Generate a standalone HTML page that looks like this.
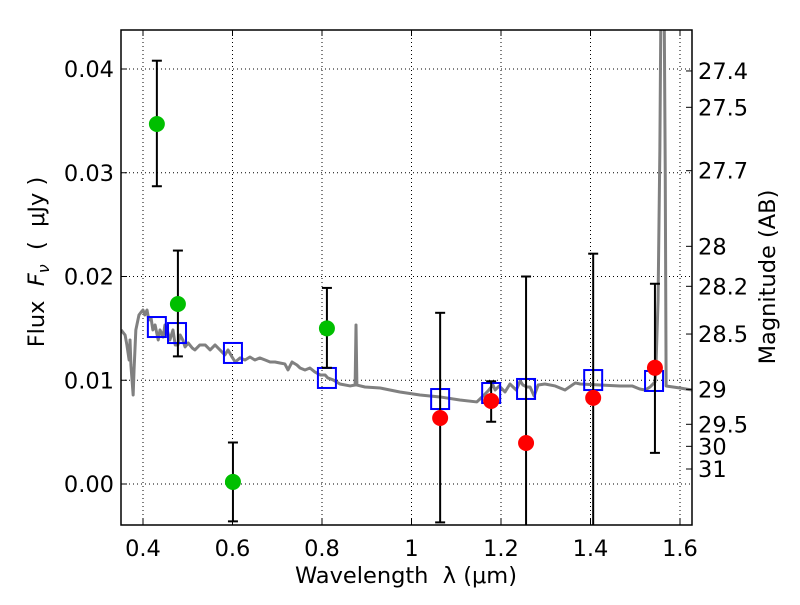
<!DOCTYPE html>
<html><head><meta charset="utf-8"><style>
body{margin:0;background:#fff}
svg text{font-family:"DejaVu Sans","Liberation Sans",sans-serif;fill:#000}
</style></head><body>
<svg id="chart" width="800" height="600" viewBox="0 0 800 600" xmlns="http://www.w3.org/2000/svg"></svg>
<script>
const xTicks=[0.4,0.6,0.8,1.0,1.2,1.4,1.6];
const xTickLabels=["0.4","0.6","0.8","1","1.2","1.4","1.6"];
const yTicks=[0,0.01,0.02,0.03,0.04];
const yTickLabels=["0.00","0.01","0.02","0.03","0.04"];
const magTicks=[27.4,27.5,27.7,28,28.2,28.5,29,29.5,30,31];
const magLabels=["27.4","27.5","27.7","28","28.2","28.5","29","29.5","30","31"];
const specLam=[0.351,0.360,0.364,0.369,0.371,0.373,0.378,0.380,0.384,0.391,0.396,0.400,0.404,0.409,0.413,0.418,0.422,0.427,0.434,0.438,0.445,0.449,0.454,0.460,0.467,0.472,0.478,0.483,0.489,0.494,0.501,0.510,0.516,0.527,0.539,0.550,0.561,0.572,0.583,0.590,0.599,0.606,0.617,0.628,0.639,0.650,0.661,0.673,0.684,0.695,0.706,0.717,0.724,0.733,0.744,0.751,0.762,0.773,0.784,0.796,0.807,0.813,0.825,0.840,0.863,0.874,0.876,0.878,0.896,0.930,0.974,1.019,1.064,1.108,1.146,1.160,1.173,1.182,1.187,1.196,1.209,1.220,1.234,1.243,1.249,1.258,1.265,1.274,1.283,1.298,1.321,1.343,1.366,1.377,1.421,1.466,1.493,1.510,1.522,1.533,1.544,1.546,1.551,1.555,1.558,1.564,1.567,1.569,1.600,1.627];
const specFlux=[0.01485,0.01436,0.0134,0.01195,0.01388,0.01147,0.00858,0.01099,0.01485,0.01629,0.01658,0.01677,0.01629,0.01677,0.01581,0.016,0.01485,0.01533,0.01388,0.01485,0.01417,0.01533,0.01485,0.01388,0.01485,0.0134,0.0134,0.01436,0.01388,0.01321,0.01359,0.01311,0.01292,0.0134,0.0134,0.01292,0.0134,0.01292,0.01244,0.01292,0.01224,0.01176,0.01215,0.01195,0.01224,0.01195,0.01215,0.01195,0.01176,0.01176,0.01166,0.01157,0.01099,0.01176,0.01147,0.01118,0.01099,0.01118,0.0108,0.01051,0.01051,0.01022,0.01003,0.00964,0.00945,0.00954,0.01533,0.00954,0.00935,0.00925,0.00887,0.00858,0.00839,0.0081,0.00791,0.00848,0.00906,0.00954,0.00906,0.00945,0.00887,0.00964,0.00906,0.00993,0.00954,0.00935,0.00935,0.00848,0.00954,0.00964,0.00945,0.00906,0.00974,0.00964,0.00954,0.00945,0.00945,0.00916,0.00906,0.00935,0.00983,0.01099,0.01774,0.0322,0.05,0.05,0.0303,0.00945,0.00925,0.00906];
const gLam=[0.431,0.478,0.601,0.811];
const gFlux=[0.0347,0.01735,0.0002,0.0150];
const gLo=[0.0287,0.0123,-0.0036,0.0112];
const gHi=[0.0408,0.0225,0.0040,0.0189];
const rLam=[1.064,1.178,1.256,1.406,1.544];
const rFlux=[0.00636,0.0080,0.00395,0.0083,0.0112];
const rLo=[-0.0037,0.0060,-0.006,-0.006,0.0030];
const rHi=[0.0165,0.0099,0.0200,0.0222,0.0193];
const bLam=[0.431,0.476,0.601,0.811,1.064,1.178,1.256,1.406,1.542];
const bFlux=[0.01513,0.01455,0.01263,0.01022,0.00819,0.00877,0.00916,0.01002,0.00993];

const L=121,R=692,T=30,B=525;
const X=v=>143+(v-0.4)*447.5;
const Y=v=>484-v*10375;
const svg=document.getElementById('chart');
const NS='http://www.w3.org/2000/svg';
function mk(tag,attrs,parent){const e=document.createElementNS(NS,tag);for(const k in attrs)e.setAttribute(k,attrs[k]);(parent||svg).appendChild(e);return e;}
const defs=mk('defs',{});const cp=mk('clipPath',{id:'clip'},defs);mk('rect',{x:L,y:T,width:R-L,height:B-T},cp);
const plot=mk('g',{'clip-path':'url(#clip)'});


xTicks.forEach((t,i)=>{
 const g=mk('line',{x1:X(t),x2:X(t),y1:T,y2:B,stroke:'#000','stroke-width':1,'stroke-dasharray':'1,3'},plot);
 
 
 mk('line',{x1:X(t),x2:X(t),y1:B,y2:B-6,stroke:'#000'});
 mk('line',{x1:X(t),x2:X(t),y1:T,y2:T+6,stroke:'#000'});
 const tx=mk('text',{x:X(t),y:556,'font-size':22.5,'text-anchor':'middle'});tx.textContent=xTickLabels[i];
 
 
});
yTicks.forEach((t,i)=>{
 const g=mk('line',{x1:L,x2:R,y1:Y(t),y2:Y(t),stroke:'#000','stroke-width':1,'stroke-dasharray':'1,3'},plot);
 
 
 mk('line',{x1:L,x2:L+6,y1:Y(t),y2:Y(t),stroke:'#000'});
 const tx=mk('text',{x:114,y:Y(t)+8,'font-size':22.5,'text-anchor':'end'});tx.textContent=yTickLabels[i];
 
 
});
magTicks.forEach((m,i)=>{
 const f=Math.pow(10,(23.9-m)/2.5);const y=Y(f);
 mk('line',{x1:R,x2:R-6,y1:y,y2:y,stroke:'#000'});
 const tx=mk('text',{x:698,y:y+8,'font-size':22.5});tx.textContent=magLabels[i];
 
 
});
const sp=mk('polyline',{points:specLam.map((l,i)=>X(l)+','+Y(specFlux[i])).join(' '),fill:'none',stroke:'#808080','stroke-width':3,'stroke-linejoin':'round'},plot);


bLam.forEach((l,i)=>{
 const r=mk('rect',{x:X(l)-9,y:Y(bFlux[i])-10,width:18,height:20,fill:'none',stroke:'#0000ff','stroke-width':2},plot);
 
 
});
function pts(lam,fl,lo,hi,col,name){
 lam.forEach((l,i)=>{
  const x=X(l);
  const eb=mk('g',{},plot);
  
  
  mk('line',{x1:x,x2:x,y1:Y(lo[i]),y2:Y(hi[i]),stroke:'#000','stroke-width':2},eb);
  mk('line',{x1:x-5,x2:x+5,y1:Y(lo[i]),y2:Y(lo[i]),stroke:'#000','stroke-width':2},eb);
  mk('line',{x1:x-5,x2:x+5,y1:Y(hi[i]),y2:Y(hi[i]),stroke:'#000','stroke-width':2},eb);
  const c=mk('circle',{cx:x,cy:Y(fl[i]),r:8,fill:col},plot);
  
  
 });
}
pts(gLam,gFlux,gLo,gHi,'#00bf00','green-detection');
pts(rLam,rFlux,rLo,rHi,'#ff0000','red-detection');
const fr=mk('rect',{x:L,y:T,width:R-L,height:B-T,fill:'none',stroke:'#000','stroke-width':1.5});


const xt=mk('text',{x:406,y:583,'font-size':22.5,'text-anchor':'middle','xml:space':'preserve'});
xt.setAttribute('style','white-space:pre');
xt.textContent='Wavelength  λ (μm)';


const yt=mk('text',{x:0,y:0,'font-size':22.5,'text-anchor':'middle',transform:'translate(44,262) rotate(-90)',style:'white-space:pre'});
yt.innerHTML='Flux  <tspan font-style="italic">F</tspan><tspan font-style="italic" font-size="16" dy="5">ν</tspan><tspan dy="-5">  (  μJy )</tspan>';


const rt=mk('text',{x:0,y:0,'font-size':22.5,'text-anchor':'middle',transform:'translate(775,277) rotate(-90)'});
rt.textContent='Magnitude (AB)';


</script>
</body></html>
